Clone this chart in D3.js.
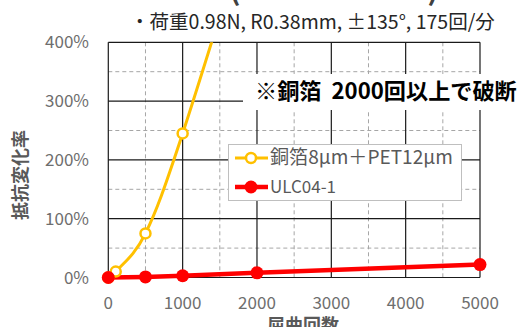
<!DOCTYPE html>
<html><head><meta charset="utf-8">
<script src="https://cdn.jsdelivr.net/npm/d3@7"></script>
<style>
html,body{margin:0;padding:0;background:#fff;}
svg{display:block;font-family:"Noto Sans CJK JP","Noto Sans",sans-serif;}
</style></head>
<body>
<script>
// ---- data ----
const xTicks = [0, 1000, 2000, 3000, 4000, 5000];
const yTicks = [0, 100, 200, 300, 400];
const copperX = [0, 100, 500, 1000, 2000];
const copperY = [0, 10, 75, 245, 650];
const ulcX = [0, 500, 1000, 2000, 5000];
const ulcY = [0, 1, 3, 8, 22];
const seriesNames = ["銅箔8μm＋PET12μm", "ULC04-1"];
const subtitle = "・荷重0.98N, R0.38mm, ±135°, 175回/分";
const note = "※銅箔  2000回以上で破断";
const xTitle = "屈曲回数";
const yTitle = "抵抗変化率";

const W = 520, H = 327;
const svg = d3.select("body").append("svg").attr("width", W).attr("height", H);

const x = d3.scaleLinear().domain([0, 5000]).range([108.3, 480]);
const y = d3.scaleLinear().domain([0, 400]).range([277.5, 42.3]);

function fit(sel, target) {
  const n = sel.node();
  const w = n.getComputedTextLength();
  const fs = parseFloat(sel.attr("font-size"));
  sel.attr("font-size", fs * target / w);
}

// cropped title parentheses
svg.append("text").attr("x", 235).attr("y", 0).attr("font-size", 30).attr("font-weight", "bold")
  .attr("fill", "#404040").attr("text-anchor", "middle").text("(");
svg.append("text").attr("x", 433).attr("y", 0).attr("font-size", 30).attr("font-weight", "bold")
  .attr("fill", "#404040").attr("text-anchor", "middle").text(")");

// subtitle
const st = svg.append("text").attr("x", 130).attr("y", 29).attr("font-size", 18)
  .attr("fill", "#262626").text(subtitle);
fit(st, 365);

// grid: minor dashed
const g = svg.append("g");
const xMinor = d3.range(500, 5000, 1000);
const yMinor = d3.range(50, 400, 100);
g.selectAll(".xm").data(xMinor).join("line")
  .attr("x1", d => x(d)).attr("x2", d => x(d)).attr("y1", y(400)).attr("y2", y(0))
  .attr("stroke", "#a6a6a6").attr("stroke-width", 1).attr("stroke-dasharray", "4,3");
g.selectAll(".ym").data(yMinor).join("line")
  .attr("x1", x(0)).attr("x2", x(5000)).attr("y1", d => y(d)).attr("y2", d => y(d))
  .attr("stroke", "#a6a6a6").attr("stroke-width", 1).attr("stroke-dasharray", "4,3");
// major solid
g.selectAll(".xM").data(xTicks).join("line")
  .attr("x1", d => x(d)).attr("x2", d => x(d)).attr("y1", y(400)).attr("y2", y(0))
  .attr("stroke", "#1a1a1a").attr("stroke-width", 1.2);
g.selectAll(".yM").data(yTicks).join("line")
  .attr("x1", x(0)).attr("x2", x(5000)).attr("y1", d => y(d)).attr("y2", d => y(d))
  .attr("stroke", "#1a1a1a").attr("stroke-width", 1.2);

// tick labels
svg.selectAll(".yt").data(yTicks).join("text")
  .attr("x", 89).attr("y", d => y(d) + 6).attr("text-anchor", "end")
  .attr("font-size", 17).attr("fill", "#6e6e6e").text(d => d + "%");
svg.selectAll(".xt").data(xTicks).join("text")
  .attr("x", d => x(d)).attr("y", 309).attr("text-anchor", "middle")
  .attr("font-size", 17).attr("fill", "#6e6e6e").text(d => d);

// axis titles
svg.append("text").attr("x", 303).attr("y", 332).attr("text-anchor", "middle")
  .attr("font-size", 18).attr("font-weight", "bold").attr("fill", "#595959").text(xTitle);
svg.append("text").attr("transform", "translate(27,175) rotate(-90)").attr("text-anchor", "middle")
  .attr("font-size", 18).attr("font-weight", "bold").attr("fill", "#595959").text(yTitle);

// clip
svg.append("clipPath").attr("id", "clip").append("rect")
  .attr("x", 0).attr("y", y(400)).attr("width", W).attr("height", H);

// copper series
const cData = copperX.map((v, i) => [v, copperY[i]]);
const line = d3.line().x(d => x(d[0])).y(d => y(d[1])).curve(d3.curveCardinal.tension(0));
svg.append("path").datum(cData).attr("d", line).attr("fill", "none")
  .attr("stroke", "#FFC000").attr("stroke-width", 3).attr("clip-path", "url(#clip)");

// ulc series
const uData = ulcX.map((v, i) => [v, ulcY[i]]);
svg.append("path").datum(uData).attr("d", d3.line().x(d => x(d[0])).y(d => y(d[1])))
  .attr("fill", "none").attr("stroke", "#FF0000").attr("stroke-width", 4.5);

// markers
svg.selectAll(".cm").data(cData.filter(d => d[1] <= 400)).join("circle")
  .attr("cx", d => x(d[0])).attr("cy", d => y(d[1])).attr("r", 5)
  .attr("fill", "#fff").attr("stroke", "#FFC000").attr("stroke-width", 2.5);
svg.selectAll(".um").data(uData).join("circle")
  .attr("cx", d => x(d[0])).attr("cy", d => y(d[1])).attr("r", 6.5)
  .attr("fill", "#FF0000");

// note with white box
svg.append("rect").attr("x", 243).attr("y", 74).attr("width", 280).attr("height", 36).attr("fill", "#fff");
const nt = svg.append("text").attr("x", 255).attr("y", 99).attr("font-size", 18)
  .attr("font-weight", "bold").attr("fill", "#000").style("white-space", "pre").text(note);
fit(nt, 262);

// legend
const lg = svg.append("g");
lg.append("rect").attr("x", 228.5).attr("y", 144.5).attr("width", 233).attr("height", 56)
  .attr("fill", "#fff").attr("stroke", "#bfbfbf").attr("stroke-width", 1);
const items = [
  {name: seriesNames[0], color: "#FFC000", open: true, sw: 3},
  {name: seriesNames[1], color: "#FF0000", open: false, sw: 4.5}
];
items.forEach((it, i) => {
  const cy = 158 + i * 29;
  lg.append("line").attr("x1", 235).attr("x2", 268).attr("y1", cy).attr("y2", cy)
    .attr("stroke", it.color).attr("stroke-width", it.sw);
  lg.append("circle").attr("cx", 251).attr("cy", cy).attr("r", it.open ? 5 : 6.5)
    .attr("fill", it.open ? "#fff" : it.color).attr("stroke", it.open ? it.color : "none")
    .attr("stroke-width", 2.5);
  const t = lg.append("text").attr("x", 270).attr("y", cy + 6).attr("font-size", 17)
    .attr("fill", "#595959").text(it.name);
  if (i === 0) fit(t, 183);
});
</script>
</body></html>
